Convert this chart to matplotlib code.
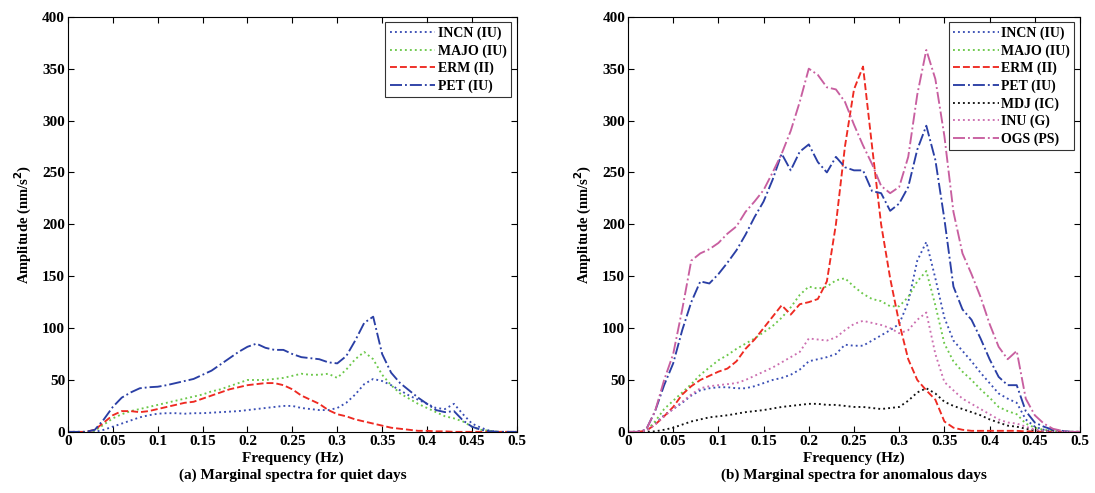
import numpy as np
import matplotlib.pyplot as plt

plt.rcParams['font.family'] = ['Liberation Serif', 'DejaVu Serif']
plt.rcParams['font.weight'] = 'bold'
plt.rcParams['axes.labelweight'] = 'bold'

freq = np.round(np.arange(0, 0.501, 0.01), 2)

# (a) quiet days
incn_q = [0, 0, 0, 0, 2, 5, 8, 11, 14, 16, 17.5, 18, 18, 17.5, 18, 18, 18.5, 19, 19.5, 20,
          21, 22, 23, 24, 25, 25, 23, 22, 21, 21, 23, 28, 36, 46, 51, 49, 45, 40, 35, 31,
          27, 23, 22, 27, 17, 8, 4, 1, 0, 0, 0]
majo_q = [0, 0, 0, 1, 7, 13, 17, 20, 22, 24, 26, 28, 30, 32, 34, 36, 39, 41, 44, 47,
          50, 50, 50, 51, 52, 54, 56, 55, 55, 56, 52, 60, 70, 77, 70, 55, 45, 37, 32, 27,
          23, 19, 15, 13, 10, 5, 2, 1, 0, 0, 0]
erm_q = [0, 0, 0, 2, 9, 16, 20, 20, 19, 20, 22, 24, 26, 28, 29, 32, 35, 38, 41, 43,
         45, 46, 47, 47, 45, 41, 35, 31, 27, 21, 17, 15, 12, 10, 8, 6, 4, 3, 2, 1,
         1, 0.5, 0.5, 0, 0, 0, 0, 0, 0, 0, 0]
pet_q = [0, 0, 0, 2, 12, 24, 33, 38, 42, 43, 43.5, 45, 47, 49, 51, 55, 59, 65, 71, 77,
         82, 85, 81, 79, 79, 75, 72, 71, 70, 67, 66, 73, 88, 105, 111, 75, 57, 47, 40, 33,
         27, 21, 19, 20, 11, 5, 2, 0.5, 0, 0, 0]

# (b) anomalous days
incn_a = [0, 0, 1, 8, 16, 22, 28, 35, 40, 42, 43, 43, 42, 42, 44, 47, 50, 52, 55, 60,
          68, 70, 72, 75, 84, 83, 83, 88, 93, 98, 104, 125, 165, 183, 148, 110, 88, 78, 68, 57,
          47, 37, 32, 28, 12, 5, 2, 1, 0, 0, 0]
majo_a = [0, 0, 1, 10, 22, 30, 38, 46, 55, 62, 69, 74, 80, 85, 90, 96, 102, 110, 120, 132,
          140, 138, 140, 146, 148, 140, 133, 128, 126, 121, 121, 130, 145, 155, 122, 85, 68, 58, 50, 41,
          33, 24, 20, 17, 8, 4, 2, 1, 0, 0, 0]
erm_a = [0, 0, 1, 7, 15, 24, 36, 44, 50, 54, 58, 61, 68, 80, 89, 100, 111, 122, 113, 123,
         125, 128, 145, 200, 275, 330, 352, 275, 200, 148, 105, 70, 50, 40, 31, 10, 4, 2, 1, 1,
         1, 1, 1, 1, 0.5, 0.5, 0, 0, 0, 0, 0]
pet_a = [0, 0, 2, 20, 45, 66, 98, 125, 145, 143, 152, 163, 175, 190, 207, 222, 243, 268, 252, 270,
         277, 260, 250, 265, 255, 252, 252, 232, 230, 213, 220, 236, 272, 295, 262, 205, 140, 118, 108, 90,
         70, 53, 45, 45, 20, 9, 5, 2, 1, 0, 0]
mdj_a = [0, 0, 0, 0.5, 2, 4, 7, 10, 12, 14, 15, 16, 17.5, 19, 20, 21, 22.5, 24, 25, 26,
         27, 27, 26, 26, 25, 24, 24, 23, 22, 23, 24, 30, 38, 42, 37, 29, 25, 22, 19, 16,
         12, 9, 6, 5, 3, 1.5, 1, 0.5, 0, 0, 0]
inu_a = [0, 0, 1, 7, 15, 22, 29, 36, 42, 44, 45, 46, 47, 50, 54, 58, 62, 67, 72, 77,
         90, 89, 88, 91, 98, 104, 107, 105, 103, 100, 95, 98, 108, 115, 75, 48, 40, 32, 27, 22,
         17, 12, 9, 8, 5, 2, 1, 0, 0, 0, 0]
ogs_a = [0, 0, 2, 20, 50, 75, 118, 165, 172, 176, 182, 191, 198, 212, 222, 233, 250, 268, 290, 318,
         350, 344, 332, 330, 318, 296, 276, 258, 237, 230, 236, 265, 325, 368, 340, 285, 212, 172, 152, 130,
         104, 82, 70, 78, 32, 16, 8, 3, 1, 0, 0]

fig = plt.figure(figsize=(10.95, 4.93), dpi=100)
ax1 = fig.add_axes([0.062, 0.124, 0.410, 0.842])
ax2 = fig.add_axes([0.5735, 0.124, 0.4128, 0.842])

lw = 1.35
ax1.plot(freq, incn_q, ':', color='#3a4fb5', lw=lw, label='INCN (IU)')
ax1.plot(freq, majo_q, ':', color='#6cc84a', lw=lw, label='MAJO (IU)')
ax1.plot(freq, erm_q, '--', color='#ee2a22', lw=lw, label='ERM (II)')
ax1.plot(freq, pet_q, '-.', color='#2a3fa5', lw=lw, label='PET (IU)')

ax2.plot(freq, incn_a, ':', color='#3a4fb5', lw=lw, label='INCN (IU)')
ax2.plot(freq, majo_a, ':', color='#6cc84a', lw=lw, label='MAJO (IU)')
ax2.plot(freq, erm_a, '--', color='#ee2a22', lw=lw, label='ERM (II)')
ax2.plot(freq, pet_a, '-.', color='#2a3fa5', lw=lw, label='PET (IU)')
ax2.plot(freq, mdj_a, ':', color='#111111', lw=lw, label='MDJ (IC)')
ax2.plot(freq, inu_a, ':', color='#cc6fb0', lw=lw, label='INU (G)')
ax2.plot(freq, ogs_a, '-.', color='#c85fa0', lw=lw, label='OGS (PS)')

xt = [0, 0.05, 0.1, 0.15, 0.2, 0.25, 0.3, 0.35, 0.4, 0.45, 0.5]
xtl = ['0', '0.05', '0.1', '0.15', '0.2', '0.25', '0.3', '0.35', '0.4', '0.45', '0.5']
for ax, cap in [(ax1, '(a) Marginal spectra for quiet days'),
                (ax2, '(b) Marginal spectra for anomalous days')]:
    ax.set_xlim(0, 0.5)
    ax.set_ylim(0, 400)
    ax.set_xticks(xt)
    ax.set_xticklabels(xtl)
    ax.set_yticks(range(0, 401, 50))
    ax.tick_params(direction='in', top=True, right=True, labelsize=11, pad=2, length=4)
    ax.set_xlabel('Frequency (Hz)', fontsize=11, labelpad=3)
    ax.set_ylabel('Amplitude (nm/s$^\\mathbf{2}$)', fontsize=10.5, labelpad=6)
    for s in ax.spines.values():
        s.set_linewidth(0.8)
    leg = ax.legend(loc='upper right', fontsize=10, handlelength=3.3, handletextpad=0.2,
                    borderaxespad=0.4, fancybox=False, edgecolor='black',
                    labelspacing=0.3, borderpad=0.3)
    leg.get_frame().set_linewidth(0.8)
    pos = ax.get_position()
    fig.text(pos.x0 + pos.width / 2, 0.035, cap, ha='center', va='center', fontsize=11)

plt.savefig('out.png', dpi=100)
